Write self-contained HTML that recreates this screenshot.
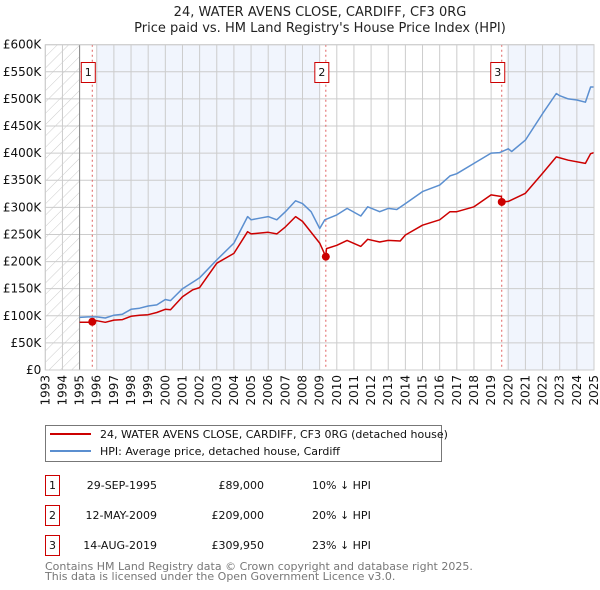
<!DOCTYPE html>
<html><head><meta charset="utf-8"><style>
body{margin:0;background:#fff;}
svg{display:block;font-family:"DejaVu Sans","Liberation Sans",sans-serif;}
</style></head><body>
<svg id="chart" width="600" height="590" viewBox="0 0 600 590">
<defs>
<pattern id="hatch" width="8" height="8" patternUnits="userSpaceOnUse" patternTransform="rotate(45)">
<line x1="0" y1="0" x2="0" y2="8" stroke="#ccc" stroke-width="1"/>
</pattern>
</defs>
<text x="320" y="16" text-anchor="middle" font-size="13" fill="#222">24, WATER AVENS CLOSE, CARDIFF, CF3 0RG</text>
<text x="320" y="32" text-anchor="middle" font-size="13" fill="#222">Price paid vs. HM Land Registry's House Price Index (HPI)</text>
<g id="plot"></g>
<g>
<rect x="45.5" y="425.5" width="396" height="36" fill="#fff" stroke="#777"/>
<line x1="50" y1="434" x2="91" y2="434" stroke="#cc0000" stroke-width="2"/>
<text x="100" y="438" font-size="11" fill="#111">24, WATER AVENS CLOSE, CARDIFF, CF3 0RG (detached house)</text>
<line x1="50" y1="451" x2="91" y2="451" stroke="#5b8fd0" stroke-width="2"/>
<text x="100" y="455" font-size="11" fill="#111">HPI: Average price, detached house, Cardiff</text>
</g>
<g id="table" font-size="11" fill="#111"></g>
<text x="45" y="570" font-size="11" fill="#777">Contains HM Land Registry data © Crown copyright and database right 2025.</text>
<text x="45" y="580" font-size="11" fill="#777">This data is licensed under the Open Government Licence v3.0.</text>
</svg>
<script>
const hpiYears=[1995,1995.5,1996,1996.5,1997,1997.5,1998,1998.5,1999,1999.5,2000,2000.3,2001,2001.8,2002,2003,2004,2004.8,2005,2005.5,2006,2006.5,2007,2007.6,2008,2008.5,2009,2009.3,2010,2010.6,2011.4,2011.8,2012.5,2013,2013.5,2014,2015,2016,2016.6,2017,2018,2019,2019.5,2020,2020.2,2021,2022,2022.8,2023,2023.5,2024,2024.5,2024.8,2025];
const hpiValues=[97000,98000,98000,96000,101000,103000,112000,114000,118000,120000,130000,128000,150000,166000,170000,203000,234000,283000,277000,280000,283000,277000,292000,312000,307000,292000,261000,277000,286000,298000,284000,301000,292000,298000,296000,307000,329000,341000,358000,362000,381000,400000,401000,408000,403000,424000,473000,510000,506000,500000,498000,494000,522000,522000];
const priceYears=[1995,1995.5,1995.75,1996,1996.5,1997,1997.5,1998,1998.5,1999,1999.5,2000,2000.3,2001,2001.6,2002,2003,2004,2004.8,2005,2006,2006.5,2007,2007.6,2008,2009,2009.36,2009.4,2010,2010.6,2011.4,2011.8,2012.5,2013,2013.7,2014,2015,2016,2016.6,2017,2018,2019,2019.6,2019.62,2020,2021,2022,2022.8,2023.5,2024.5,2024.8,2025];
const priceValues=[88000,88000,89000,91000,88000,92000,93000,99000,101000,102000,106000,112000,111000,135000,148000,152000,197000,215000,255000,251000,254000,251000,264000,283000,274000,234000,209000,224000,230000,239000,228000,241000,236000,239000,238000,249000,267000,277000,292000,292000,301000,323000,320000,309950,311000,326000,363000,393000,387000,381000,399000,401000];
const saleLabels=["1","2","3"];
const saleYears=[1995.74,2009.36,2019.62];
const salePrices=[89000,209000,309950];
const saleDates=["29-SEP-1995","12-MAY-2009","14-AUG-2019"];
const salePriceText=["£89,000","£209,000","£309,950"];
const saleDiffText=["10% ↓ HPI","20% ↓ HPI","23% ↓ HPI"];
const yTicks=[0,50000,100000,150000,200000,250000,300000,350000,400000,450000,500000,550000,600000];
const yTickLabels=["£0","£50K","£100K","£150K","£200K","£250K","£300K","£350K","£400K","£450K","£500K","£550K","£600K"];
const xTicks=[1993,1994,1995,1996,1997,1998,1999,2000,2001,2002,2003,2004,2005,2006,2007,2008,2009,2010,2011,2012,2013,2014,2015,2016,2017,2018,2019,2020,2021,2022,2023,2024,2025];

const X0=45.3,X1=594,Y0=370,Y1=44.7;
const xs=y=>X0+(y-1993)/(2025-1993)*(X1-X0);
const ys=v=>Y0-v/600000*(Y0-Y1);
const NS="http://www.w3.org/2000/svg";
const plot=document.getElementById('plot');
function mk(tag,attrs,parent){const e=document.createElementNS(NS,tag);for(const k in attrs)e.setAttribute(k,attrs[k]);(parent||plot).appendChild(e);return e;}

// backgrounds
let r;
r=mk('rect',{x:X0,y:Y1,width:X1-X0,height:Y0-Y1,fill:'#fff'});


const bands=[[1996,2009.0],[2019.9,2025]];
bands.forEach(b=>{const e=mk('rect',{x:xs(b[0]),y:Y1,width:xs(b[1])-xs(b[0]),height:Y0-Y1,fill:'#eef3fc',opacity:0.8});

});
r=mk('rect',{x:X0,y:Y1,width:xs(1995)-X0,height:Y0-Y1,fill:'url(#hatch)'});


// grid
xTicks.forEach((t,i)=>{const l=mk('line',{x1:xs(t),x2:xs(t),y1:Y1,y2:Y0,stroke:'#ccc','stroke-width':1});


const tx=mk('text',{x:0,y:0,transform:`translate(${xs(t)+4},${Y0+5}) rotate(-90)`,'text-anchor':'end','font-size':12,fill:'#111'});
tx.textContent=t;

});
yTicks.forEach((t,i)=>{const l=mk('line',{x1:X0,x2:X1,y1:ys(t),y2:ys(t),stroke:'#ccc','stroke-width':1});


const tx=mk('text',{x:X0-4,y:ys(t)+4,'text-anchor':'end','font-size':12,fill:'#111'});
tx.textContent=yTickLabels[i];

});
r=mk('line',{x1:xs(1995),x2:xs(1995),y1:Y1,y2:Y0,stroke:'#888','stroke-width':1});


// sale vlines
saleYears.forEach((s,i)=>{const l=mk('line',{x1:xs(s),x2:xs(s),y1:Y1,y2:Y0,stroke:'#e06060','stroke-width':1,'stroke-dasharray':'2,3'});

});
function path(xsArr,vs,color,name){const d=xsArr.map((y,i)=>(i?'L':'M')+xs(y).toFixed(1)+','+ys(vs[i]).toFixed(1)).join('');
const p=mk('path',{d:d,fill:'none',stroke:color,'stroke-width':1.5,'stroke-linejoin':'round'});

}
path(hpiYears,hpiValues,'#5b8fd0','hpi-line');
path(priceYears,priceValues,'#cc0000','price-paid-line');
saleYears.forEach((s,i)=>{const c=mk('circle',{cx:xs(s),cy:ys(salePrices[i]),r:4,fill:'#cc0000'});


const g=mk('rect',{x:xs(s)-11,y:62.5,width:14,height:20,fill:'#fff',stroke:'#cc0000'});


const t=mk('text',{x:xs(s)-4,y:76,'text-anchor':'middle','font-size':11,fill:'#111'});
t.textContent=saleLabels[i];

});
r=mk('rect',{x:X0,y:Y1,width:X1-X0,height:Y0-Y1,fill:'none',stroke:'#ccc'});


// table
const tb=document.getElementById('table');
saleLabels.forEach((s,i)=>{const y0=475+i*30;
const b=mk('rect',{x:45.5,y:y0+0.5,width:14,height:20,fill:'#fff',stroke:'#cc0000'},tb);


const cells=[[52.5,'middle',s,'table-row-number'],[157,'end',saleDates[i],'table-date'],[264,'end',salePriceText[i],'table-price'],[312,'start',saleDiffText[i],'table-hpi-diff']];
cells.forEach(c=>{const t=mk('text',{x:c[0],y:y0+14,'text-anchor':c[1]},tb);t.textContent=c[2];

});});
</script>
</body></html>
